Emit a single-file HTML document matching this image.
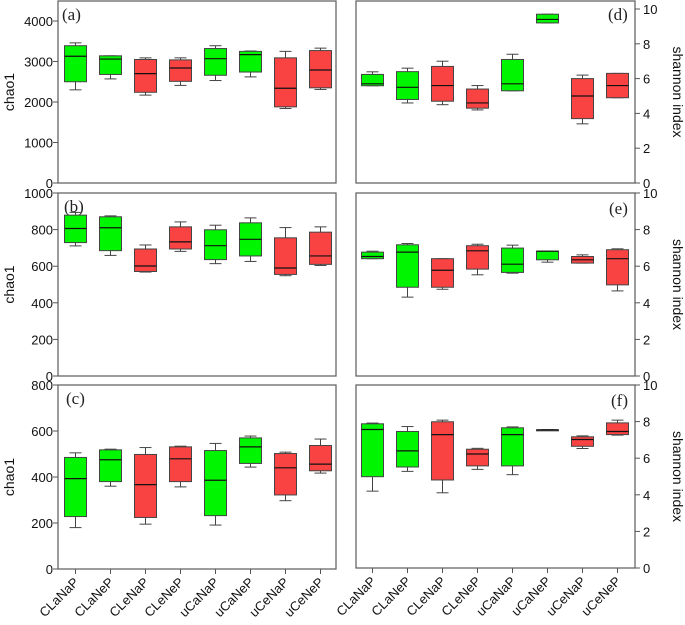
<!DOCTYPE html>
<html><head><meta charset="utf-8"><style>
body{margin:0;background:#fff}
svg{display:block;font-family:"Liberation Sans",Arial,sans-serif}
</style></head><body>
<svg id="c" width="685" height="625" viewBox="0 0 685 625"></svg>
<script>
const categories=["CLaNaP","CLaNeP","CLeNaP","CLeNeP","uCaNaP","uCaNeP","uCeNaP","uCeNeP"];
const groupColor=["g","g","r","r","g","g","r","r"];
// each: [low, q1, median, q3, high]
const chaoA=[[2300,2500,3130,3390,3460],[2570,2680,3060,3140,3140],[2170,2240,2700,3050,3090],[2410,2510,2840,3040,3090],[2530,2660,3070,3320,3390],[2620,2740,3170,3250,3260],[1840,1880,2340,3090,3250],[2310,2350,2790,3270,3330]];
const chaoB=[[711,729,806,879,894],[659,685,810,870,875],[568,571,601,694,716],[681,694,733,815,842],[614,636,712,799,824],[626,656,747,837,864],[548,555,590,755,811],[604,610,656,786,815]];
const chaoC=[[180,228,393,485,505],[360,380,475,518,521],[195,224,367,498,528],[357,380,479,531,534],[191,232,386,515,546],[443,459,531,570,578],[297,322,440,502,508],[417,427,456,537,565]];
const shanD=[[5.59,5.59,5.7,6.24,6.39],[4.6,4.8,5.5,6.4,6.6],[4.5,4.7,5.6,6.7,7.0],[4.2,4.3,4.6,5.4,5.6],[5.3,5.3,5.7,7.1,7.4],[9.2,9.2,9.4,9.7,9.7],[3.4,3.7,5.0,6.0,6.2],[4.9,4.9,5.6,6.3,6.3]];
const shanE=[[6.41,6.41,6.53,6.77,6.82],[4.31,4.85,6.77,7.17,7.24],[4.74,4.85,5.78,6.41,6.41],[5.53,5.84,6.84,7.12,7.2],[5.62,5.66,6.11,6.99,7.15],[6.22,6.35,6.82,6.82,6.82],[6.17,6.17,6.35,6.53,6.62],[4.65,4.98,6.41,6.9,6.95]];
const shanF=[[4.2,4.99,7.57,7.88,7.92],[5.28,5.52,6.4,7.46,7.73],[4.11,4.81,7.29,7.99,8.08],[5.39,5.58,6.23,6.49,6.54],[5.1,5.58,7.29,7.66,7.71],[7.55,7.55,7.55,7.55,7.55],[6.53,6.65,7.02,7.17,7.22],[7.26,7.29,7.46,7.93,8.08]];
const ticksA=[0,1000,2000,3000,4000];
const ticksB=[0,200,400,600,800,1000];
const ticksC=[0,200,400,600,800];
const ticksS=[0,2,4,6,8,10];

const NS="http://www.w3.org/2000/svg";
const svg=document.getElementById("c");
function el(t,a,p){const e=document.createElementNS(NS,t);for(const k in a)e.setAttribute(k,a[k]);(p||svg).appendChild(e);return e;}
const panels=[
 {id:"a",data:chaoA,ticks:ticksA,x0:58,x1:336,top:1,bot:183,max:4000,maxY:21,side:"L",cx0:75.5,lbl:"(a)",lx:62,ly:20},
 {id:"b",data:chaoB,ticks:ticksB,x0:58,x1:336,top:193,bot:376,max:1000,maxY:193,side:"L",cx0:75.5,lbl:"(b)",lx:64,ly:212},
 {id:"c",data:chaoC,ticks:ticksC,x0:58,x1:336,top:385,bot:569,max:800,maxY:385,side:"L",cx0:75.5,lbl:"(c)",lx:66,ly:404},
 {id:"d",data:shanD,ticks:ticksS,x0:356,x1:635,top:1,bot:183,max:10,maxY:9,side:"R",cx0:372.5,lbl:"(d)",lx:608,ly:20},
 {id:"e",data:shanE,ticks:ticksS,x0:356,x1:635,top:193,bot:376,max:10,maxY:193,side:"R",cx0:372.5,lbl:"(e)",lx:609,ly:214},
 {id:"f",data:shanF,ticks:ticksS,x0:356,x1:635,top:385,bot:568,max:10,maxY:385,side:"R",cx0:372.5,lbl:"(f)",lx:611,ly:406}
];
const step=35;
panels.forEach(P=>{
 const g=el("g",{});
 
 
 const y=v=>P.bot-(v/P.max)*(P.bot-P.maxY);
 const x=i=>P.cx0+i*step;
 const fr=el("rect",{x:P.x0,y:P.top,width:P.x1-P.x0,height:P.bot-P.top,fill:"none",stroke:"#666","stroke-width":1.3},g);
 
 
 P.ticks.forEach(t=>{
  const ty=y(t);
  if(P.side==="L"){
   el("line",{x1:P.x0-5,x2:P.x0,y1:ty,y2:ty,stroke:"#555"},g);
   const tx=el("text",{x:P.x0-5,y:ty+5,"text-anchor":"end","font-size":13,fill:"#111"},g);tx.textContent=t;
   
   
  }else{
   el("line",{x1:P.x1,x2:P.x1+5,y1:ty,y2:ty,stroke:"#555"},g);
   const tx=el("text",{x:P.x1+8,y:ty+5,"font-size":13,fill:"#111"},g);tx.textContent=t;
   
   
  }
 });
 const lb=el("text",{x:P.lx,y:P.ly,"font-size":17,"font-family":"Liberation Serif,serif",fill:"#222"},g);lb.textContent=P.lbl;
 
 
 const at=el("text",{"font-size":14,fill:"#111","text-anchor":"middle"},g);
 if(P.side==="L"){at.setAttribute("transform",`translate(14,${(P.top+P.bot)/2}) rotate(-90)`);at.textContent="chao1";}
 else{at.setAttribute("transform",`translate(673,${(P.top+P.bot)/2}) rotate(90)`);at.textContent="shannon index";}
 
 
 P.data.forEach((d,i)=>{
  const cx=x(i),w=22,col=groupColor[i]==="g"?"#00f500":"#f94343";
  const bg=el("g",{},g);
  
  
  el("line",{x1:cx,x2:cx,y1:y(d[0]),y2:y(d[1]),stroke:"#444"},bg);
  el("line",{x1:cx,x2:cx,y1:y(d[3]),y2:y(d[4]),stroke:"#444"},bg);
  el("line",{x1:cx-6,x2:cx+6,y1:y(d[0]),y2:y(d[0]),stroke:"#444"},bg);
  el("line",{x1:cx-6,x2:cx+6,y1:y(d[4]),y2:y(d[4]),stroke:"#444"},bg);
  el("rect",{x:cx-w/2,y:y(d[3]),width:w,height:Math.max(1,y(d[1])-y(d[3])),fill:col,stroke:"#444","stroke-width":1},bg);
  el("line",{x1:cx-w/2,x2:cx+w/2,y1:y(d[2]),y2:y(d[2]),stroke:"#111","stroke-width":1.2},bg);
 });
 if(P.id==="c"||P.id==="f"){
  categories.forEach((c,i)=>{
   const cx=x(i);
   el("line",{x1:cx,x2:cx,y1:P.bot,y2:P.bot+5,stroke:"#555"},g);
   const t=el("text",{"font-size":13,fill:"#111","text-anchor":"end",transform:`translate(${cx+4},${P.bot+14}) rotate(-45)`},g);
   t.textContent=c;
   
   
  });
 }
});
</script>
</body></html>
